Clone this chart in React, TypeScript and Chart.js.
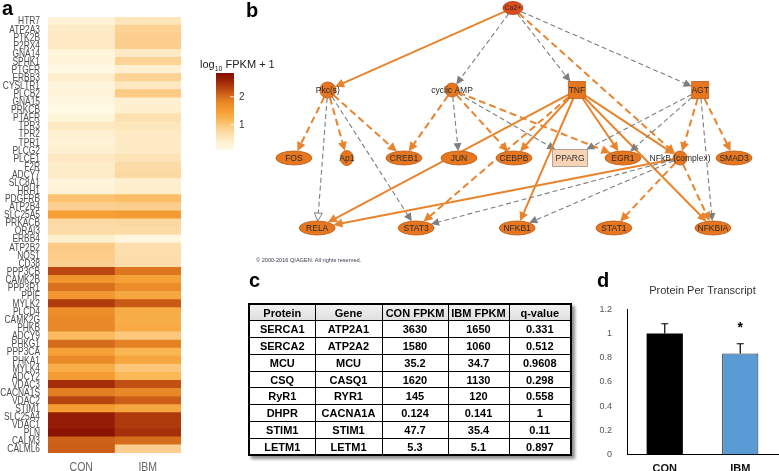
import React, { useEffect, useRef } from 'react';
import { Chart, registerables } from 'chart.js';
Chart.register(...registerables);

const SANS = '"Liberation Sans", Arial, Helvetica, sans-serif';

// ---------- Panel a: heatmap data (log10 FPKM + 1) ----------
const genes = ['HTR7','ATP2A3','PTK2B','P2RX4','GNA14','SPHK1','PTGFR','ERBB3','CYSLTR1','PLCB2',
  'GNA15','PRKCB','PTAFR','TPR3','TPR2','TPR1','PLCG2','PLCE1','F2R','ADCY7',
  'SLC8A1','HRH1','PDGFRB','ATP2B4','SLC25A5','PRKACB','ORAI3','ERBB4','ATP2B2','NOS1',
  'CD38','PPP3CB','CAMK2B','PPP3R1','PPIF','MYLK2','PLCD4','CAMK2G','PHKB','ADCY9',
  'PHKG1','PPP3CA','PHKA1','MYLK4','ADCY2','VDAC3','CACNA1S','VDAC2','STIM1','SLC25A4',
  'VDAC1','PLN','CALM3','CALML6'];
const conLog = [0.3,0.45,0.45,0.45,0.25,0.25,0.15,0.4,0.25,0.25,
  0.2,0.1,0.25,0.5,0.35,0.3,0.35,0.5,0.42,0.43,
  0.25,0.3,1.05,0.88,1.48,0.73,0.72,0.38,0.95,0.93,
  0.88,2.3,1.62,2.0,1.58,2.4,1.7,1.78,1.8,1.15,
  2.03,1.45,1.78,1.3,1.52,2.5,1.88,2.32,1.52,2.65,
  2.65,2.8,2.1,2.12];
const ibmLog = [0.55,0.85,0.9,0.9,0.45,0.85,0.35,0.85,0.5,0.95,
  0.35,0.38,0.65,0.55,0.45,0.45,0.45,0.6,0.72,0.75,
  0.37,0.4,1.1,0.9,1.52,0.76,0.72,0.2,0.67,0.68,
  0.68,1.95,1.45,1.72,1.38,2.15,1.32,1.3,1.33,0.98,
  1.85,1.2,1.4,1.0,1.18,2.22,1.8,2.12,1.38,2.4,
  2.4,2.48,2.02,0.88];
const heatColumns = ['CON', 'IBM'];
const legendTicks = [1, 2];
const legendMin = 0.1;
const legendMax = 2.85;

// ---------- Panel b: network ----------
const netNodes = ['Ca2+','Pkc(s)','cyclic AMP','TNF','AGT','FOS','Ap1','CREB1','JUN','CEBPB',
  'PPARG','EGR1','NFkB (complex)','SMAD3','RELA','STAT3','NFKB1','STAT1','NFKBIA'];
const netX = [49.7,14.7,38.2,61.8,85.1,8.3,18.3,29.1,39.5,49.9,60.5,70.5,81.3,91.5,12.7,31.4,50.5,68.8,87.5];
const netY = [3.2,36,36,36,36,63.2,63.2,63.2,63.2,63.2,63.2,63.2,63.2,63.2,91.2,91.2,91.2,91.2,91.2];
const netShape = ['ion','circle','circleS','square','square','ellipse','ap','ellipse','ellipse','ellipse',
  'rect','ellipse','circleS','ellipse','ellipse','ellipse','ellipse','ellipse','ellipse'];
const edgeFrom = ['Ca2+','Ca2+','Ca2+','Ca2+','Ca2+',
  'Pkc(s)','Pkc(s)','Pkc(s)','Pkc(s)','Pkc(s)',
  'cyclic AMP','cyclic AMP','cyclic AMP','cyclic AMP','cyclic AMP',
  'TNF','TNF','TNF','TNF','TNF','TNF','TNF',
  'AGT','AGT','AGT','AGT','AGT',
  'NFkB (complex)','NFkB (complex)','NFkB (complex)','NFkB (complex)','NFkB (complex)'];
const edgeTo = ['Pkc(s)','cyclic AMP','TNF','AGT','NFkB (complex)',
  'FOS','Ap1','CREB1','RELA','STAT3',
  'CREB1','JUN','CEBPB','PPARG','EGR1',
  'RELA','CEBPB','STAT3','NFKB1','EGR1','NFkB (complex)','NFKBIA',
  'PPARG','EGR1','NFkB (complex)','SMAD3','NFKBIA',
  'RELA','STAT3','NFKB1','STAT1','NFKBIA'];
const edgeKind = ['os','gd','gd','gd','od',
  'od','od','od','gh','gd',
  'od','gd','od','gd','od',
  'os','os','od','os','os','os','os',
  'gd','gd','od','od','gd',
  'os','gd','gd','od','od'];
const copyright = '\u00A9 2000-2016 QIAGEN. All rights reserved.';

// ---------- Panel c: table ----------
const tableHeader = ['Protein', 'Gene', 'CON FPKM', 'IBM FPKM', 'q-value'];
const proteins = ['SERCA1','SERCA2','MCU','CSQ','RyR1','DHPR','STIM1','LETM1'];
const tableGenes = ['ATP2A1','ATP2A2','MCU','CASQ1','RYR1','CACNA1A','STIM1','LETM1'];
const conFpkm = ['3630','1580','35.2','1620','145','0.124','47.7','5.3'];
const ibmFpkm = ['1650','1060','34.7','1130','120','0.141','35.4','5.1'];
const qValues = ['0.331','0.512','0.9608','0.298','0.558','1','0.11','0.897'];

// ---------- Panel d: bar chart ----------
const barTitle = 'Protein Per Transcript';
const barLabels = ['CON', 'IBM'];
const barValues = [1.0, 0.835];
const barErrors = [0.08, 0.08];
const barSig = ['', '*'];

// ---------- colour map ----------
type RGB = [number, number, number];
const stopV = [0, 0.3, 0.6, 0.9, 1.2, 1.5, 1.8, 2.0, 2.2, 2.4, 2.6, 2.85];
const stopC: RGB[] = [[255,252,238],[254,243,214],[253,227,182],[252,206,142],[250,182,83],[245,157,50],
  [232,136,38],[216,112,28],[196,82,20],[175,58,12],[152,34,6],[133,14,0]];
function heatColor(v: number): string {
  if (v <= stopV[0]) return `rgb(${stopC[0].join(',')})`;
  for (let i = 1; i < stopV.length; i++) {
    if (v <= stopV[i]) {
      const f = (v - stopV[i - 1]) / (stopV[i] - stopV[i - 1]);
      const a = stopC[i - 1], b = stopC[i];
      return `rgb(${Math.round(a[0] + (b[0] - a[0]) * f)},${Math.round(a[1] + (b[1] - a[1]) * f)},${Math.round(a[2] + (b[2] - a[2]) * f)})`;
    }
  }
  return `rgb(${stopC[stopC.length - 1].join(',')})`;
}

// condensed axis labels (the reference uses a narrow face)
const heatLabelPlugin = {
  id: 'heatLabels',
  afterDraw(chart: any) {
    const ctx = chart.ctx;
    const ys = chart.scales.y;
    const xs = chart.scales.x;
    const area = chart.chartArea;
    ctx.save();
    ctx.textBaseline = 'middle';
    ctx.textAlign = 'right';
    ctx.fillStyle = '#4a4a4a';
    ctx.font = `10.5px ${SANS}`;
    genes.forEach((g, i) => {
      const y = ys.getPixelForValue(i);
      ctx.save();
      ctx.translate(area.left - 8, y + 0.5);
      ctx.scale(0.8, 1);
      ctx.fillText(g, 0, 0);
      ctx.restore();
    });
    ctx.textAlign = 'center';
    ctx.textBaseline = 'alphabetic';
    ctx.fillStyle = '#666';
    ctx.font = `13.5px ${SANS}`;
    heatColumns.forEach((c, i) => {
      const x = xs.getPixelForValue(i + 0.5);
      ctx.save();
      ctx.translate(x, area.bottom + 17.5);
      ctx.scale(0.78, 1);
      ctx.fillText(c, 0, 0);
      ctx.restore();
    });
    ctx.restore();
  },
};

const heatLegendPlugin = {
  id: 'heatLegend',
  afterDraw(chart: any) {
    const ctx = chart.ctx;
    const x0 = 216, w = 18, yTop = 73, yBot = 150;
    ctx.save();
    const g = ctx.createLinearGradient(0, yBot, 0, yTop);
    for (let i = 0; i <= 40; i++) {
      const f = i / 40;
      g.addColorStop(f, heatColor(legendMin + f * (legendMax - legendMin)));
    }
    ctx.fillStyle = g;
    ctx.fillRect(x0, yTop, w, yBot - yTop);
    ctx.font = `10px ${SANS}`;
    ctx.fillStyle = '#333';
    ctx.textAlign = 'left';
    ctx.textBaseline = 'middle';
    legendTicks.forEach((t) => {
      const y = yBot - ((t - legendMin) / (legendMax - legendMin)) * (yBot - yTop);
      ctx.strokeStyle = 'rgba(255,255,255,0.8)';
      ctx.lineWidth = 1;
      ctx.beginPath();
      ctx.moveTo(x0 + w - 4, y);
      ctx.lineTo(x0 + w, y);
      ctx.stroke();
      ctx.fillText(String(t), x0 + w + 5, y);
    });
    ctx.fillStyle = '#222';
    ctx.textBaseline = 'alphabetic';
    let x = 200;
    const yb = 68;
    ctx.font = `11px ${SANS}`;
    ctx.fillText('log', x, yb);
    x += ctx.measureText('log').width;
    ctx.font = `7px ${SANS}`;
    ctx.fillText('10', x, yb + 3);
    x += ctx.measureText('10').width;
    ctx.font = `11px ${SANS}`;
    ctx.fillText(' FPKM + 1', x, yb);
    ctx.restore();
  },
};

const nodeGeom: Record<string, { k: string; a: number; b: number }> = {
  ion: { k: 'e', a: 10, b: 6.5 },
  circle: { k: 'e', a: 8, b: 8 },
  circleS: { k: 'e', a: 7, b: 7 },
  square: { k: 'r', a: 8.5, b: 8.5 },
  rect: { k: 'r', a: 17.5, b: 8.5 },
  ellipse: { k: 'e', a: 18, b: 7 },
  ap: { k: 'e', a: 6.5, b: 7.5 },
};
function reach(shape: string, ux: number, uy: number): number {
  const g = nodeGeom[shape];
  if (g.k === 'r') return Math.min(g.a / Math.max(Math.abs(ux), 1e-6), g.b / Math.max(Math.abs(uy), 1e-6));
  return 1 / Math.sqrt((ux / g.a) ** 2 + (uy / g.b) ** 2);
}

const networkPlugin = {
  id: 'network',
  beforeDatasetsDraw(chart: any) {
    const ctx = chart.ctx;
    const pts = chart.getDatasetMeta(0).data;
    ctx.save();
    edgeFrom.forEach((fromName, i) => {
      const fi = netNodes.indexOf(fromName);
      const ti = netNodes.indexOf(edgeTo[i]);
      const a = pts[fi], b = pts[ti];
      const dx = b.x - a.x, dy = b.y - a.y;
      const L = Math.hypot(dx, dy);
      const ux = dx / L, uy = dy / L;
      const s = reach(netShape[fi], ux, uy);
      const e = reach(netShape[ti], ux, uy);
      const x1 = a.x + ux * s, y1 = a.y + uy * s;
      const x2 = b.x - ux * e, y2 = b.y - uy * e;
      const kind = edgeKind[i];
      const orange = kind[0] === 'o';
      const col = orange ? '#E8842E' : '#7E7E7E';
      const al = orange ? 9 : 8;
      const aw = orange ? 4.5 : 4;
      ctx.strokeStyle = col;
      ctx.lineWidth = orange ? 2 : 1.1;
      ctx.setLineDash(kind === 'os' ? [] : orange ? [7, 4] : [5, 3]);
      ctx.beginPath();
      ctx.moveTo(x1, y1);
      ctx.lineTo(x2 - ux * al * 0.85, y2 - uy * al * 0.85);
      ctx.stroke();
      ctx.setLineDash([]);
      const bx = x2 - ux * al, by = y2 - uy * al;
      ctx.beginPath();
      ctx.moveTo(x2, y2);
      ctx.lineTo(bx - uy * aw, by + ux * aw);
      ctx.lineTo(bx + uy * aw, by - ux * aw);
      ctx.closePath();
      if (kind === 'gh') {
        ctx.fillStyle = '#fff';
        ctx.fill();
        ctx.lineWidth = 1;
        ctx.stroke();
      } else {
        ctx.fillStyle = col;
        ctx.fill();
      }
    });
    ctx.restore();
  },
  afterDatasetsDraw(chart: any) {
    const ctx = chart.ctx;
    const pts = chart.getDatasetMeta(0).data;
    ctx.save();
    netNodes.forEach((name, i) => {
      const p = pts[i];
      const shape = netShape[i];
      const g = nodeGeom[shape];
      ctx.beginPath();
      if (g.k === 'r') ctx.rect(p.x - g.a, p.y - g.b, g.a * 2, g.b * 2);
      else ctx.ellipse(p.x, p.y, g.a, g.b, 0, 0, Math.PI * 2);
      if (shape === 'rect') {
        ctx.fillStyle = '#F8D4B6';
        ctx.strokeStyle = '#9E8E82';
      } else if (shape === 'ion') {
        ctx.fillStyle = '#DC4C1C';
        ctx.strokeStyle = '#A83A12';
      } else {
        ctx.fillStyle = '#E6761F';
        ctx.strokeStyle = '#B95D18';
      }
      ctx.lineWidth = 0.8;
      ctx.fill();
      ctx.stroke();
      ctx.fillStyle = '#2b2b2b';
      ctx.font = `${shape === 'ion' ? 7 : 8.5}px ${SANS}`;
      ctx.textAlign = 'center';
      ctx.textBaseline = 'middle';
      ctx.fillText(name, p.x, p.y + 0.5);
    });
    ctx.font = `5.6px ${SANS}`;
    ctx.fillStyle = '#3a3a4a';
    ctx.textAlign = 'left';
    ctx.textBaseline = 'middle';
    ctx.fillText(copyright, 6, chart.chartArea.bottom + 10);
    ctx.restore();
  },
};

const errorPlugin = {
  id: 'errorBars',
  afterDatasetsDraw(chart: any) {
    const ctx = chart.ctx;
    const y = chart.scales.y;
    const bars = chart.getDatasetMeta(0).data;
    ctx.save();
    bars.forEach((bar: any, i: number) => {
      const top = y.getPixelForValue(barValues[i] + barErrors[i]);
      ctx.strokeStyle = '#000';
      ctx.lineWidth = 1.2;
      ctx.beginPath();
      ctx.moveTo(bar.x, bar.y);
      ctx.lineTo(bar.x, top);
      ctx.moveTo(bar.x - 3.5, top);
      ctx.lineTo(bar.x + 3.5, top);
      ctx.stroke();
      if (barSig[i]) {
        ctx.fillStyle = '#000';
        ctx.font = `bold 14px ${SANS}`;
        ctx.textAlign = 'center';
        ctx.textBaseline = 'alphabetic';
        ctx.fillText(barSig[i], bar.x, top - 12);
      }
    });
    ctx.restore();
  },
};

const labelStyle: React.CSSProperties = {
  position: 'absolute',
  font: `bold 20px ${SANS}`,
  lineHeight: '20px',
  color: '#000',
};

export default function App() {
  const heatRef = useRef<HTMLCanvasElement>(null);
  const netRef = useRef<HTMLCanvasElement>(null);
  const barRef = useRef<HTMLCanvasElement>(null);

  useEffect(() => {
    const charts: Chart[] = [];
    charts.push(new Chart(heatRef.current!, {
      type: 'bar',
      data: {
        labels: genes,
        datasets: [
          { label: heatColumns[0], data: genes.map(() => [0, 1]) as any, backgroundColor: conLog.map(heatColor), borderWidth: 0, grouped: false, barPercentage: 1, categoryPercentage: 1 } as any,
          { label: heatColumns[1], data: genes.map(() => [1, 2]) as any, backgroundColor: ibmLog.map(heatColor), borderWidth: 0, grouped: false, barPercentage: 1, categoryPercentage: 1 } as any,
        ],
      },
      options: {
        indexAxis: 'y',
        animation: false,
        responsive: false,
        events: [],
        layout: { padding: { top: 17, right: 99, left: 0, bottom: 0 } },
        plugins: { legend: { display: false }, tooltip: { enabled: false } },
        scales: {
          x: {
            type: 'linear', min: 0, max: 2,
            grid: { display: false, drawTicks: false }, border: { display: false },
            ticks: { display: false },
            afterFit: (s: any) => { s.height = 18; },
          },
          y: {
            type: 'category',
            grid: { display: false, drawTicks: false }, border: { display: false },
            ticks: { display: false },
            afterFit: (s: any) => { s.width = 48; },
          },
        },
      } as any,
      plugins: [heatLabelPlugin, heatLegendPlugin],
    }));

    charts.push(new Chart(netRef.current!, {
      type: 'scatter',
      data: { datasets: [{ data: netX.map((x, i) => ({ x, y: netY[i] })), pointRadius: 0 }] },
      options: {
        animation: false,
        responsive: false,
        events: [],
        layout: { padding: { top: 0, left: 0, right: 0, bottom: 18 } },
        plugins: { legend: { display: false }, tooltip: { enabled: false } },
        scales: {
          x: { type: 'linear', min: 0, max: 100, display: false },
          y: { type: 'linear', min: 0, max: 100, reverse: true, display: false },
        },
      } as any,
      plugins: [networkPlugin],
    }));

    charts.push(new Chart(barRef.current!, {
      type: 'bar',
      data: {
        labels: barLabels,
        datasets: [{
          data: barValues,
          backgroundColor: ['#000000', '#5B9BD5'],
          borderColor: ['#000000', '#2a2a2a'],
          borderWidth: [0, 1],
          barPercentage: 0.48,
          categoryPercentage: 1,
        } as any],
      },
      options: {
        animation: false,
        responsive: false,
        events: [],
        layout: { padding: { top: 0, right: 1, left: 0, bottom: 0 } },
        plugins: {
          legend: { display: false },
          tooltip: { enabled: false },
          title: { display: true, text: barTitle, fullSize: false, color: '#333', font: { family: SANS, size: 11, weight: 'normal' }, padding: { top: 14, bottom: 12 } },
        },
        scales: {
          x: {
            grid: { display: false, drawTicks: false }, border: { display: true, color: '#000', width: 1 },
            ticks: { color: '#111', font: { family: SANS, size: 11, weight: 'bold' }, padding: 8 },
            afterFit: (s: any) => { s.height = 17; },
          },
          y: {
            min: 0, max: 1.2,
            grid: { display: false, drawTicks: false }, border: { display: true, color: '#000', width: 1 },
            ticks: { stepSize: 0.2, color: '#555', font: { family: SANS, size: 9 }, padding: 15, callback: (v: any) => String(Math.round(Number(v) * 10) / 10) },
            afterFit: (s: any) => { s.width = 67; },
          },
        },
      } as any,
      plugins: [errorPlugin],
    }));
    return () => charts.forEach((c) => c.destroy());
  }, []);

  const cell: React.CSSProperties = { border: '1.5px solid #000', padding: 0, textAlign: 'center', verticalAlign: 'middle' };
  const colW = [66, 67, 66, 61, 62];

  return (
    <div style={{ position: 'fixed', left: 0, top: 0, width: 779, height: 471, background: '#fff', overflow: 'hidden' }}>
      <canvas ref={heatRef} width={280} height={471} style={{ position: 'absolute', left: 0, top: 0, width: 280, height: 471 }} />
      <canvas ref={netRef} width={529} height={268} style={{ position: 'absolute', left: 250, top: 0, width: 529, height: 268 }} />
      <canvas ref={barRef} width={219} height={205} style={{ position: 'absolute', left: 560, top: 270, width: 219, height: 205 }} />
      <table style={{ position: 'absolute', left: 248, top: 303, width: 322, borderCollapse: 'collapse', tableLayout: 'fixed', font: `bold 11px ${SANS}`, color: '#000', boxShadow: '3px 3px 3px rgba(0,0,0,0.45)', border: '2px solid #000' }}>
        <colgroup>{colW.map((w, i) => <col key={i} style={{ width: w }} />)}</colgroup>
        <tbody>
          <tr style={{ height: 16.8, background: 'linear-gradient(#f2f2f2, #dedede)' }}>
            {tableHeader.map((h) => <td key={h} style={cell}>{h}</td>)}
          </tr>
          {proteins.map((p, i) => (
            <tr key={p} style={{ height: 16.8 }}>
              <td style={cell}>{p}</td>
              <td style={cell}>{tableGenes[i]}</td>
              <td style={cell}>{conFpkm[i]}</td>
              <td style={cell}>{ibmFpkm[i]}</td>
              <td style={cell}>{qValues[i]}</td>
            </tr>
          ))}
        </tbody>
      </table>
      <div style={{ ...labelStyle, left: 2, top: -2 }}>a</div>
      <div style={{ ...labelStyle, left: 246, top: 0 }}>b</div>
      <div style={{ ...labelStyle, left: 249, top: 270 }}>c</div>
      <div style={{ ...labelStyle, left: 597, top: 270 }}>d</div>
    </div>
  );
}
